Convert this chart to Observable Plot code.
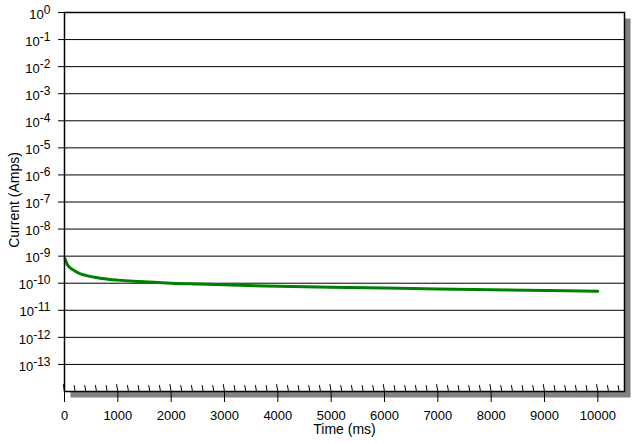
<!DOCTYPE html>
<html>
<head>
<meta charset="utf-8">
<script src="https://cdn.jsdelivr.net/npm/d3@7"></script>
<script src="https://cdn.jsdelivr.net/npm/@observablehq/plot@0.6"></script>
<style>
  html, body { margin: 0; padding: 0; background: #fff; }
  svg { display: block; }
</style>
</head>
<body>
<div id="chart"></div>
<script>
const timeMs = [10, 50, 100, 150, 200, 300, 400, 500, 700, 1000, 1300, 1600, 2000, 2500, 3000, 4000, 5000, 6000, 7000, 8000, 9000, 10000];
const currentAmps = [8.0e-10, 5.0e-10, 3.8e-10, 3.2e-10, 2.8e-10, 2.2e-10, 1.95e-10, 1.75e-10, 1.5e-10, 1.3e-10, 1.18e-10, 1.1e-10, 1.0e-10, 9.3e-11, 8.7e-11, 7.7e-11, 7.1e-11, 6.6e-11, 6.1e-11, 5.7e-11, 5.4e-11, 5.1e-11];

// Axis ticks
const yTickExponents = [0, -1, -2, -3, -4, -5, -6, -7, -8, -9, -10, -11, -12, -13];
const xMajorTicks = [0, 1000, 2000, 3000, 4000, 5000, 6000, 7000, 8000, 9000, 10000];
const xMinorTicks = [200, 400, 600, 800, 1200, 1400, 1600, 1800, 2200, 2400, 2600, 2800,
  3200, 3400, 3600, 3800, 4200, 4400, 4600, 4800, 5200, 5400, 5600, 5800,
  6200, 6400, 6600, 6800, 7200, 7400, 7600, 7800, 8200, 8400, 8600, 8800,
  9200, 9400, 9600, 9800, 10200, 10400];
const yLabel = "Current (Amps)";
const xLabel = "Time (ms)";

const points = timeMs.map((t, i) => ({t, I: currentAmps[i]}));
const yTicks = yTickExponents.map(e => Math.pow(10, e));

const tickShape = {
  draw(context, l) { context.moveTo(0, 0); context.lineTo(0, -l); }
};

const chart = Plot.plot({
  width: 638,
  height: 443,
  marginLeft: 64,
  marginRight: 14,
  marginTop: 12,
  marginBottom: 52,
  style: {fontFamily: "'Liberation Sans', Arial, sans-serif", fontSize: "13px", background: "white", color: "black"},
  x: {domain: [0, 10500]},
  y: {type: "log", domain: [1e-14, 1]},
  marks: [
    // drop shadow
    Plot.frame({fill: "#808080", stroke: null, insetLeft: 6, insetTop: 6, insetRight: -6, insetBottom: -6}),
    Plot.frame({fill: "white", stroke: null}),
    Plot.ruleY(yTicks, {stroke: "black", strokeWidth: 1}),
    Plot.line(points, {x: "t", y: "I", stroke: "#008000", strokeWidth: 3, curve: "monotone-x"}),
    Plot.frame({stroke: "black", strokeWidth: 1.5}),
    Plot.axisY({ticks: yTicks, tickSize: 6, tickPadding: 8, label: null,
      tickFormat: d => "10^" + Math.round(Math.log10(d))}),
    Plot.axisX({ticks: xMajorTicks, tickSize: 11, tickPadding: 8, label: null,
      tickFormat: d => String(d)}),
    Plot.vector(xMajorTicks, {x: d => d, frameAnchor: "bottom", length: 7, anchor: "start", rotate: -10, shape: tickShape, stroke: "black", strokeWidth: 1}),
    Plot.vector(xMinorTicks, {x: d => d, frameAnchor: "bottom", length: 6, anchor: "start", rotate: -10, shape: tickShape, stroke: "black", strokeWidth: 1}),
    Plot.text([yLabel], {frameAnchor: "left", textAnchor: "middle", lineAnchor: "middle", dx: -50, dy: -2, rotate: -90, fontSize: 14, fill: "black"}),
    Plot.text([xLabel], {frameAnchor: "bottom", textAnchor: "middle", lineAnchor: "middle", dy: 38.5, fontSize: 14, fill: "black"})
  ]
});

// superscript exponents on y tick labels
d3.select(chart).selectAll('g[aria-label="y-axis tick label"] text').each(function() {
  const s = this.textContent;
  const parts = s.split("^");
  const t = d3.select(this);
  t.text(null);
  t.append("tspan").attr("dy", 2).text(parts[0]);
  t.append("tspan").attr("dy", -5).attr("font-size", 12).text(parts[1]);
});

document.getElementById("chart").appendChild(chart);
</script>
</body>
</html>
